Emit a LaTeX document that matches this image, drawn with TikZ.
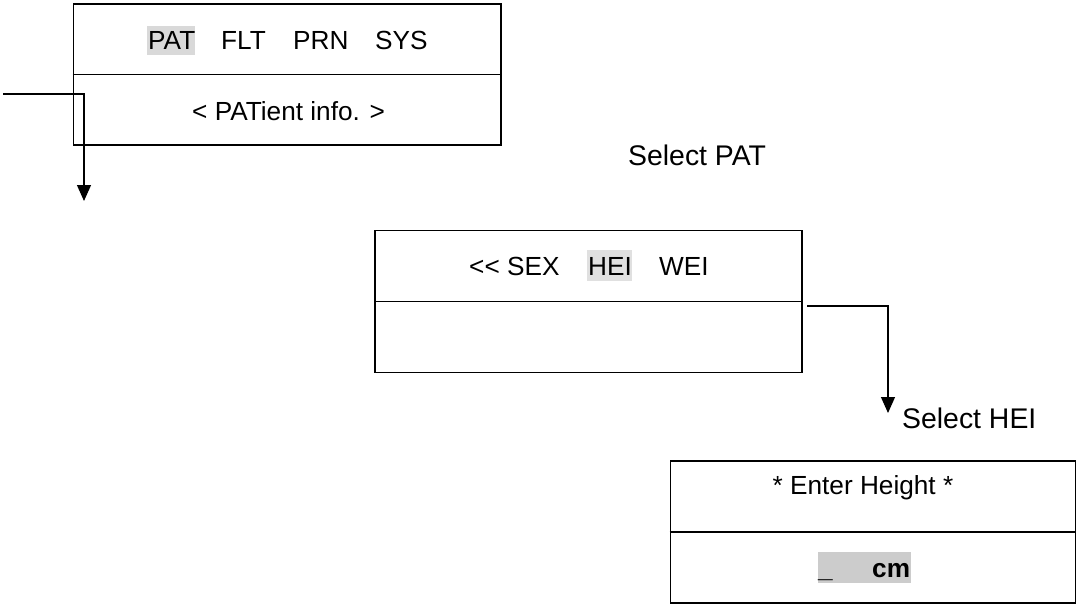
\documentclass[tikz,border=0pt]{standalone}
\usepackage{fontspec}
\setmainfont[Ligatures=NoCommon]{Liberation Sans}
\usetikzlibrary{arrows.meta}
\definecolor{hlA}{RGB}{217,217,217}
\definecolor{hlB}{RGB}{224,224,224}
\definecolor{hlC}{RGB}{204,204,204}
\begin{document}
\begin{tikzpicture}[x=1pt,y=-1pt,
  panel/.style={draw=black,line width=1.8pt,inner sep=0pt},
  txt/.style={inner sep=0pt,anchor=base west,font=\fontsize{26.2}{31}\selectfont},
  lbl/.style={inner sep=0pt,anchor=base west,font=\fontsize{28.4}{33}\selectfont},
  conn/.style={draw=black,line width=1.2pt},
  arr/.style={conn,-{Triangle[width=14pt,length=16pt]}}]
\useasboundingbox (0,0) rectangle (1077,605);
% highlights
\fill[hlA] (147,26) rectangle (195,55);
\fill[hlB] (587,250) rectangle (632,281);
\fill[hlC] (818,552) rectangle (911,583);
% panels
\node[panel,minimum width=427.5pt,minimum height=141pt] (b1) at (287.25,74.5) {};
\draw[line width=1.8pt] (b1.west) -- (b1.east);
\node[panel,minimum width=427pt,minimum height=142pt] (b2) at (588.5,301.5) {};
\draw[line width=1.8pt] (b2.west) -- (b2.east);
\node[panel,minimum width=405pt,minimum height=142pt] (b3) at (873,532) {};
\draw[line width=1.8pt] (b3.west) -- (b3.east);
% texts box 1
\node[txt] (pat) at (148,49) {PAT};
\node[txt] (flt) at (221,49) {FLT};
\node[txt] (prn) at (293,49) {PRN};
\node[txt] (sys) at (375,49) {SYS};
\node[txt] (info) at (192,120) {< PATient info. >};
% texts box 2
\node[txt] (sex) at (469,275) {\mbox{<}\mbox{<} SEX};
\node[txt] (hei) at (588,275) {HEI};
\node[txt] (wei) at (659,275) {WEI};
% texts box 3
\node[txt,anchor=base] (enter) at (863,494) {* Enter Height *};
\node[txt,font=\fontsize{26.2}{31}\selectfont\bfseries] (cur) at (818,577) {\_};
\node[txt,font=\fontsize{26.2}{31}\selectfont\bfseries] (cm) at (872,577) {cm};
% labels
\node[lbl] (selpat) at (628,165) {Select PAT};
\node[lbl] (selhei) at (902,428) {Select HEI};
% connectors
\coordinate (c1s) at (3,94);
\coordinate (c1e) at (84,201);
\draw[arr] (c1s) -| (c1e);
\coordinate (c2s) at (807,306);
\coordinate (c2e) at (888,413);
\draw[arr] (c2s) -| (c2e);
\end{tikzpicture}
\end{document}
